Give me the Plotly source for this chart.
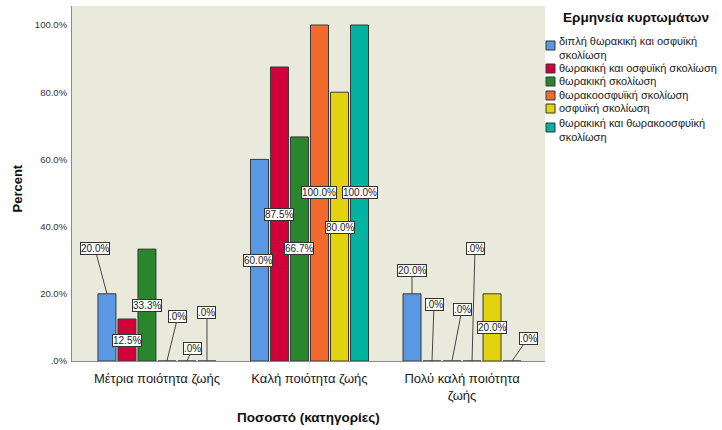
import plotly.graph_objects as go

# ---------------- data ----------------
categories = ["Μέτρια ποιότητα ζωής", "Καλή ποιότητα ζωής", "Πολύ καλή ποιότητα ζωής"]
category_ticktext = ["Μέτρια ποιότητα ζωής", "Καλή ποιότητα ζωής", "Πολύ καλή ποιότητα<br>ζωής"]

series_names = [
    "διπλή θωρακική και οσφυϊκή σκολίωση",
    "θωρακική και οσφυϊκή σκολίωση",
    "θωρακική σκολίωση",
    "θωρακοοσφυϊκή σκολίωση",
    "οσφυϊκή σκολίωση",
    "θωρακική και θωρακοοσφυϊκή σκολίωση",
]
legend_labels = [
    "διπλή θωρακική και οσφυϊκή<br>σκολίωση",
    "θωρακική και οσφυϊκή σκολίωση",
    "θωρακική σκολίωση",
    "θωρακοοσφυϊκή σκολίωση",
    "οσφυϊκή σκολίωση",
    "θωρακική και θωρακοοσφυϊκή<br>σκολίωση",
]

vals_diplh = [20.0, 60.0, 20.0]
vals_thor_osf = [12.5, 87.5, 0.0]
vals_thor = [33.3, 66.7, 0.0]
vals_thoroosf = [0.0, 100.0, 0.0]
vals_osf = [0.0, 80.0, 20.0]
vals_thor_thoroosf = [0.0, 100.0, 0.0]
series_values = [vals_diplh, vals_thor_osf, vals_thor, vals_thoroosf, vals_osf, vals_thor_thoroosf]

y_tickvals = [0, 20, 40, 60, 80, 100]
y_ticktext = [".0%", "20.0%", "40.0%", "60.0%", "80.0%", "100.0%"]

# ---------------- style ----------------
colors = ["#5A98E4", "#D2003A", "#2A862C", "#F26A2E", "#E3D30F", "#00B2A0"]
FONT = "Liberation Sans, Arial, sans-serif"

# label offsets (pixels, screen coords) from bar top, and whether a leader line is drawn
label_dx = [
    [-12, -1, 0],
    [0, 0, 2],
    [0, 0, 10],
    [11, 0, 3],
    [6, 0, 0],
    [0, 0, 16],
]
label_dy = [
    [-45, 101, -23],
    [21, 147, -57],
    [56, 112, -52],
    [-45, 167, -113],
    [-13, 135, 34],
    [-49, 167, -23],
]
label_arrow = [
    [True, False, True],
    [False, False, True],
    [False, False, True],
    [True, False, True],
    [True, False, False],
    [True, False, True],
]

BARGAP = 0.213
BARGROUPGAP = 0.1

L, R, T, B = 72, 177, 6, 69
W, H = 722, 430
PW, PH = W - L - R, H - T - B


def fmt(v):
    s = f"{v:.1f}%"
    if s.startswith("0."):
        s = s[1:]
    return s


def px2paper(px, py):
    return (px - L) / PW, (H - B - py) / PH


fig = go.Figure()
for name, vals, col in zip(series_names, series_values, colors):
    fig.add_trace(go.Bar(
        name=name, x=category_ticktext, y=vals,
        marker=dict(color=col, line=dict(color="#3a3a3a", width=1)),
        showlegend=False, hoverinfo="skip",
    ))

n = len(series_names)
slot = (1 - BARGAP) / n
annotations = []
for i, vals in enumerate(series_values):
    off = -(1 - BARGAP) / 2 + (i + 0.5) * slot
    for j, v in enumerate(vals):
        base = dict(
            x=j + off, y=v, xref="x", yref="y", text=fmt(v),
            font=dict(family=FONT, size=10, color="#222"),
            bgcolor="white", bordercolor="#333", borderwidth=1, borderpad=0,
        )
        if label_arrow[i][j]:
            base.update(showarrow=True, arrowhead=0, arrowwidth=1, arrowcolor="#444",
                        ax=label_dx[i][j], ay=label_dy[i][j], standoff=0)
        else:
            base.update(showarrow=False, xshift=label_dx[i][j], yshift=-label_dy[i][j])
        annotations.append(base)

# axis titles
annotations.append(dict(x=0.5, y=0, xref="paper", yref="paper", yshift=-56,
                        xanchor="center", yanchor="middle",
                        text="<b>Ποσοστό (κατηγορίες)</b>", showarrow=False,
                        font=dict(family=FONT, size=13.5, color="#111")))
annotations.append(dict(x=0, y=0.5, xref="paper", yref="paper", xshift=-55, yshift=-5,
                        xanchor="center", yanchor="middle",
                        text="<b>Percent</b>", textangle=-90, showarrow=False,
                        font=dict(family=FONT, size=13, color="#111")))

# legend (manual)
lx, ly = px2paper(711, 18)
annotations.append(dict(x=lx, y=ly, xref="paper", yref="paper", xanchor="right", yanchor="middle",
                        text="<b>Ερμηνεία κυρτωμάτων</b>", showarrow=False,
                        font=dict(family=FONT, size=13.6, color="#111")))
shapes = []
leg_box_y = [41, 64, 77, 91, 104, 123]
leg_text_y = [48, 68, 81, 95, 108, 130]
for i in range(n):
    x0, y0 = px2paper(546, leg_box_y[i])
    x1, y1 = px2paper(555, leg_box_y[i] + 9)
    shapes.append(dict(type="rect", xref="paper", yref="paper", x0=x0, x1=x1, y0=y1, y1=y0,
                       fillcolor=colors[i], line=dict(color="#333", width=1)))
    tx, ty = px2paper(557, leg_text_y[i])
    annotations.append(dict(x=tx, y=ty, xref="paper", yref="paper", xanchor="left",
                            yanchor="middle", align="left", text=legend_labels[i],
                            showarrow=False,
                            font=dict(family=FONT, size=11, color="#222")))

fig.update_layout(
    width=W, height=H,
    margin=dict(l=L, r=R, t=T, b=B, autoexpand=False),
    paper_bgcolor="white", plot_bgcolor="#EAEADC",
    barmode="group", bargap=BARGAP, bargroupgap=BARGROUPGAP,
    annotations=annotations, shapes=shapes,
    font=dict(family=FONT),
)
fig.update_xaxes(range=[-0.557, 2.544], showgrid=False, showline=True, linecolor="#8a8a8a",
                 linewidth=1, ticks="", tickfont=dict(family=FONT, size=13, color="#222"),
                 ticklabelstandoff=5, automargin=False, zeroline=False)
fig.update_yaxes(range=[0, PH / 3.36], showgrid=False, showline=True, linecolor="#8a8a8a",
                 linewidth=1, ticks="", tickvals=y_tickvals, ticktext=y_ticktext,
                 tickfont=dict(family=FONT, size=9.5, color="#333"), ticklabelstandoff=2,
                 automargin=False, zeroline=False)

fig.write_html("out.html")
